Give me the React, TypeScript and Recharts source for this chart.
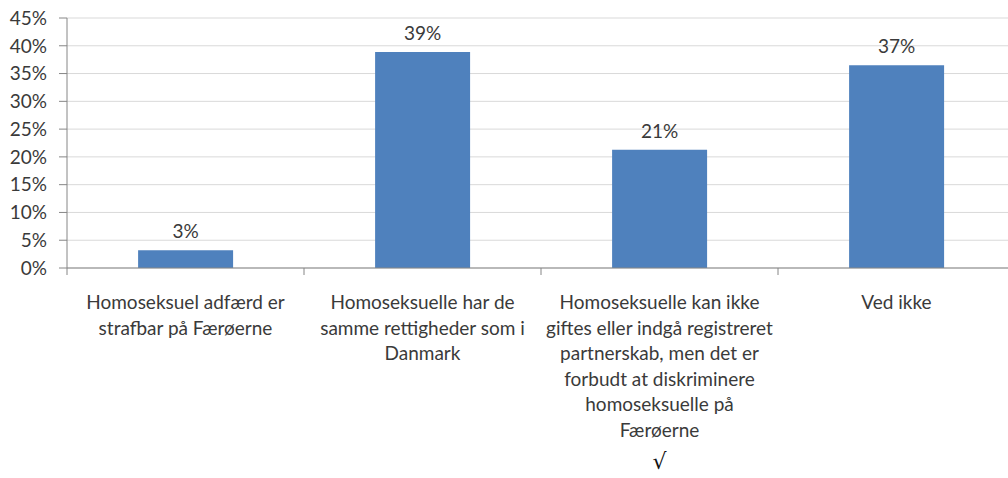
import React from "react";
import { BarChart, Bar, XAxis, YAxis, CartesianGrid, LabelList } from "recharts";

const categories = [
  "Homoseksuel adfærd er strafbar på Færøerne",
  "Homoseksuelle har de samme rettigheder som i Danmark",
  "Homoseksuelle kan ikke giftes eller indgå registreret partnerskab, men det er forbudt at diskriminere homoseksuelle på Færøerne",
  "Ved ikke",
];
const categoryLines = [
  ["Homoseksuel adfærd er", "strafbar på Færøerne"],
  ["Homoseksuelle har de", "samme rettigheder som i", "Danmark"],
  [
    "Homoseksuelle kan ikke",
    "giftes eller indgå registreret",
    "partnerskab, men det er",
    "forbudt at diskriminere",
    "homoseksuelle på",
    "Færøerne",
  ],
  ["Ved ikke"],
];
const marks = ["", "", "√", ""];
const values = [3.2, 38.9, 21.3, 36.5];
const yTicks = [0, 5, 10, 15, 20, 25, 30, 35, 40, 45];

const data = categories.map((c, i) => ({ category: c, value: values[i] }));

const FONT = "Lato, 'Open Sans', sans-serif";
const TEXT = "#3a3a3a";
const FS = 19;
const AXIS = "#868686";

const CategoryTick = (props: any) => {
  const { x, y, payload, width, visibleTicksCount } = props;
  const idx = payload.index ?? categories.indexOf(payload.value);
  const lines = categoryLines[idx] || [];
  const half = width / (visibleTicksCount || categories.length) / 2;
  return (
    <g>
      <line x1={x - half} x2={x - half} y1={y} y2={y + 7} stroke={AXIS} />
      {idx === categories.length - 1 ? (
        <line x1={x + half} x2={x + half} y1={y} y2={y + 7} stroke={AXIS} />
      ) : null}
      {lines.map((l, i) => (
        <text
          key={i}
          x={x}
          y={y + 41 + i * 25.5}
          textAnchor="middle"
          fill={TEXT}
          fontSize={FS}
          fontFamily={FONT}
        >
          {l}
        </text>
      ))}
      {marks[idx] ? (
        <text x={x} y={y + 201} textAnchor="middle" fill="#111" fontSize={22} fontFamily="'DejaVu Sans', sans-serif">
          {marks[idx]}
        </text>
      ) : null}
    </g>
  );
};

export default function App() {
  return (
    <div style={{ position: "absolute", top: 0, left: 8, width: 1000, height: 478, overflow: "hidden" }}>
      <BarChart
        width={1008}
        height={478}
        data={data}
        margin={{ top: 18, right: 1, left: 0, bottom: 10 }}
        barCategoryGap="30%"
      >
        <CartesianGrid vertical={false} stroke="#d9d9d9" />
        <XAxis
          dataKey="category"
          height={200}
          axisLine={{ stroke: AXIS }}
          tickLine={false}
          tickSize={0}
          tickMargin={0}
          interval={0}
          tick={<CategoryTick />}
        />
        <YAxis
          width={59}
          domain={[0, 45]}
          ticks={yTicks}
          interval={0}
          tickFormatter={(v: number) => `${v}%`}
          axisLine={{ stroke: AXIS }}
          tickLine={{ stroke: AXIS }}
          tickSize={8}
          tickMargin={12}
          tick={{ fill: TEXT, fontSize: FS, fontFamily: FONT }}
        />
        <Bar dataKey="value" fill="#4F81BD" isAnimationActive={false}>
          <LabelList
            dataKey="value"
            position="top"
            offset={12}
            formatter={(v: number) => `${Math.round(v)}%`}
            style={{ fill: TEXT, fontSize: FS, fontFamily: FONT }}
          />
        </Bar>
      </BarChart>
    </div>
  );
}
